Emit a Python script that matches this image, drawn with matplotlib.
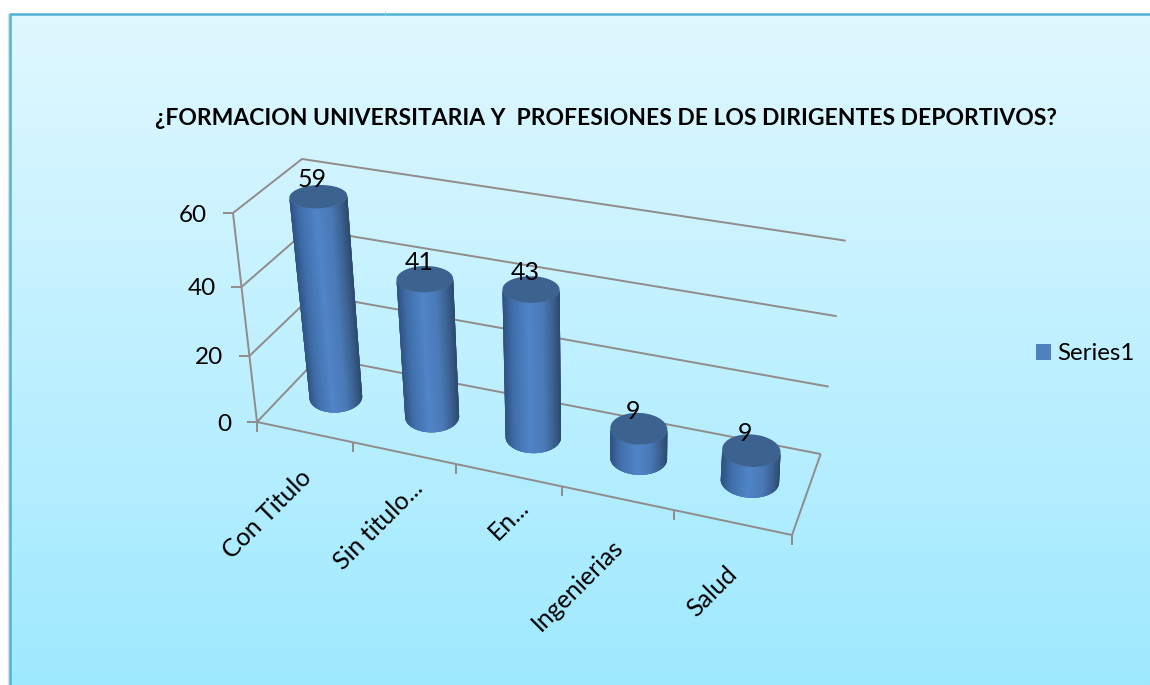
import matplotlib
matplotlib.use("Agg")
import matplotlib.pyplot as plt
import numpy as np
from matplotlib.collections import PolyCollection
from matplotlib.colors import LinearSegmentedColormap
from matplotlib.patches import Patch, Polygon

# chart data
title = "¿FORMACION UNIVERSITARIA Y  PROFESIONES DE LOS DIRIGENTES DEPORTIVOS?"
categories = ["Con Titulo", "Sin titulo...", "En...", "Ingenierias", "Salud"]
values = [59, 41, 43, 9, 9]
y_ticks = [0, 20, 40, 60]
series_name = "Series1"

plt.rcParams['font.family'] = ['Lato', 'DejaVu Sans']

GRID = "#908c8a"
CAP = "#3c628f"
BAR = "#4f81bd"
body_cmap = LinearSegmentedColormap.from_list("body", [
    (0.0, "#2f5283"), (0.15, "#3f6da8"), (0.45, "#5085c8"),
    (0.7, "#4a79b6"), (0.88, "#3a608f"), (1.0, "#2d4a70")])


def height_frac(v):
    """
    Perspective makes the lower value bands look a bit shorter
    :param v: value on the y axis
    :return: fraction of the box height
    """
    return np.interp(v, [0, 20, 40, 60], [0, 0.316, 0.646, 1])


def across_frac(i):
    """
    Position along the category axis, also squeezed by perspective
    :param i: category position, 0 is the left end of the floor
    :return: fraction of the floor width
    """
    return np.interp(i, [0, 1, 2, 3, 4, 5], [0, 0.179, 0.372, 0.570, 0.779, 1])


def project(xf, depth, v):
    """
    Turn a place in the 3d box into a pixel of the picture
    :param xf: fraction along the category axis
    :param depth: 0 for the front edge, 1 for the back wall
    :param v: value on the y axis
    :return: x and y in pixels
    """
    t = height_frac(v)
    floor_front = np.array([257, 422]) + xf * np.array([535, 113])
    floor_back = np.array([319, 357]) + xf * np.array([501.7, 97])
    top_front = np.array([233, 213]) + xf * np.array([570, 89])
    top_back = np.array([302, 159]) + xf * np.array([543.7, 81.7])
    floor = floor_front + depth * (floor_back - floor_front)
    top = top_front + depth * (top_back - top_front)
    return floor + t * (top - floor)


def ellipse(center, half_w, xf, angles):
    """
    Points of a cylinder end, a little tilted towards the sides of the box
    :param center: pixel center
    :param half_w: half of the width
    :param xf: fraction along the category axis
    :param angles: angles to evaluate
    :return: array of pixel points
    """
    half_h = 8.15 + 0.018 * center[1]
    dx = half_w * np.cos(angles)
    dy = half_h * np.sin(angles) + dx * (xf - 0.4) * 0.1
    return np.column_stack([center[0] + dx, center[1] + dy])


def draw_cylinder(ax, pos, value):
    """
    Draw one shaded cylinder standing on the floor
    :param ax: axes in pixel coordinates
    :param pos: category index
    :param value: height of the cylinder
    :return: nothing
    """
    xf = across_frac(pos + 0.5)
    base = project(xf, 0.525, 0)
    top = project(xf, 0.51, value)
    t = height_frac(value)
    base_w = 26 + 3.6 * xf
    top_w = base_w + (29 - base_w) * t

    #front half of the body, each strip runs under the next one so no seams show
    angles = np.linspace(np.pi, 0, 90)
    low = ellipse(base, base_w, xf, angles)
    high = ellipse(top, top_w, xf, angles)
    strips = []
    shades = []
    for i in range(len(angles) - 1):
        j = min(i + 4, len(angles) - 1)
        strips.append(np.vstack([low[i:j + 1], high[i:j + 1][::-1]]))
        shades.append((np.cos(angles[i]) + 1) / 2)
    ax.add_collection(PolyCollection(strips, facecolors=body_cmap(np.array(shades)),
                                     edgecolors="none", zorder=3))

    #flat top of the cylinder
    cap = ellipse(top, top_w, xf, np.linspace(0, 2 * np.pi, 80))
    ax.add_patch(Polygon(cap, closed=True, facecolor=CAP, edgecolor="none", zorder=4))

    ax.text(top[0] - 6, top[1] - 17, str(value), ha='center', va='center',
            fontsize=18, color="black", zorder=6)


def draw_box(ax):
    """
    Draw the walls, the floor and the ticks of the 3d box
    :param ax: axes in pixel coordinates
    :return: nothing
    """
    line = dict(color=GRID, lw=1.4, zorder=2, solid_capstyle='butt')

    for v in y_ticks:
        #side wall and back wall lines for each value
        points = [project(0, 0, v), project(0, 1, v), project(1, 1, v)]
        ax.plot([p[0] for p in points], [p[1] for p in points], **line)
        #tick and label on the left axis
        x, y = project(0, 0, v)
        ax.plot([x - 10, x], [y, y], **line)
        ax.text(x - 26, y + 2, str(v), ha='right', va='center', fontsize=17.5, color="black")

    #vertical axis
    bottom = project(0, 0, 0)
    top = project(0, 0, 60)
    ax.plot([bottom[0], top[0]], [bottom[1], top[1]], **line)

    #front and right edges of the floor
    points = [project(0, 0, 0), project(1, 0, 0), project(1, 1, 0)]
    ax.plot([p[0] for p in points], [p[1] for p in points], **line)

    #ticks between the categories
    for i in range(len(categories) + 1):
        x, y = project(across_frac(i), 0, 0)
        ax.plot([x, x], [y, y + 10], **line)


def draw_labels(ax):
    """
    Draw the rotated category labels under the floor
    :param ax: axes in pixel coordinates
    :return: nothing
    """
    nudge = [(-5, 33), (6, 23), (8, 20), (-7, 37), (-8, 40)]
    for i, name in enumerate(categories):
        x, y = project(across_frac(i + 0.5), 0, 0)
        ax.text(x + nudge[i][0], y + nudge[i][1], name, rotation=45, ha='right', va='top',
                rotation_mode='anchor', fontsize=18, color="black")


def draw_panel(ax):
    """
    Draw the gradient background with its frame
    :param ax: axes in pixel coordinates
    :return: nothing
    """
    panel = LinearSegmentedColormap.from_list("panel", ["#e0f8ff", "#9fe9ff"])
    gradient = np.linspace(0, 1, 256).reshape(-1, 1)
    ax.imshow(gradient, cmap=panel, extent=[10, 1150, 685, 14], aspect='auto', zorder=0)
    ax.plot([8, 8], [14, 685], color="#dddddd", lw=1, zorder=1)
    ax.plot([10, 10, 1150], [685, 14, 14], color="#4fb4d2", lw=1.8, zorder=1)
    ax.plot([384.5, 384.5], [11, 14], color="#9fd8e8", lw=0.6, zorder=1)


def main():
    """
    Main function
    :return: Nothing
    """
    fig = plt.figure(figsize=(11.5, 6.85), dpi=100)
    ax = fig.add_axes([0, 0, 1, 1])

    draw_panel(ax)
    draw_box(ax)
    for i, value in enumerate(values):
        draw_cylinder(ax, i, value)
    draw_labels(ax)

    ax.text(606, 118, title, ha='center', va='center', fontsize=16.5,
            fontweight='bold', color="black")

    ax.legend(handles=[Patch(facecolor=BAR, label=series_name)], loc='center left',
              bbox_to_anchor=(1036 / 1150, 1 - 354 / 685), frameon=False, fontsize=17.3,
              handlelength=0.62, handleheight=0.62, handletextpad=0.25, borderaxespad=0,
              borderpad=0)

    ax.set_xlim(0, 1150)
    ax.set_ylim(685, 0)
    ax.axis('off')
    fig.savefig("out.png", dpi=100, facecolor="white")


if __name__ == '__main__':
    main()
